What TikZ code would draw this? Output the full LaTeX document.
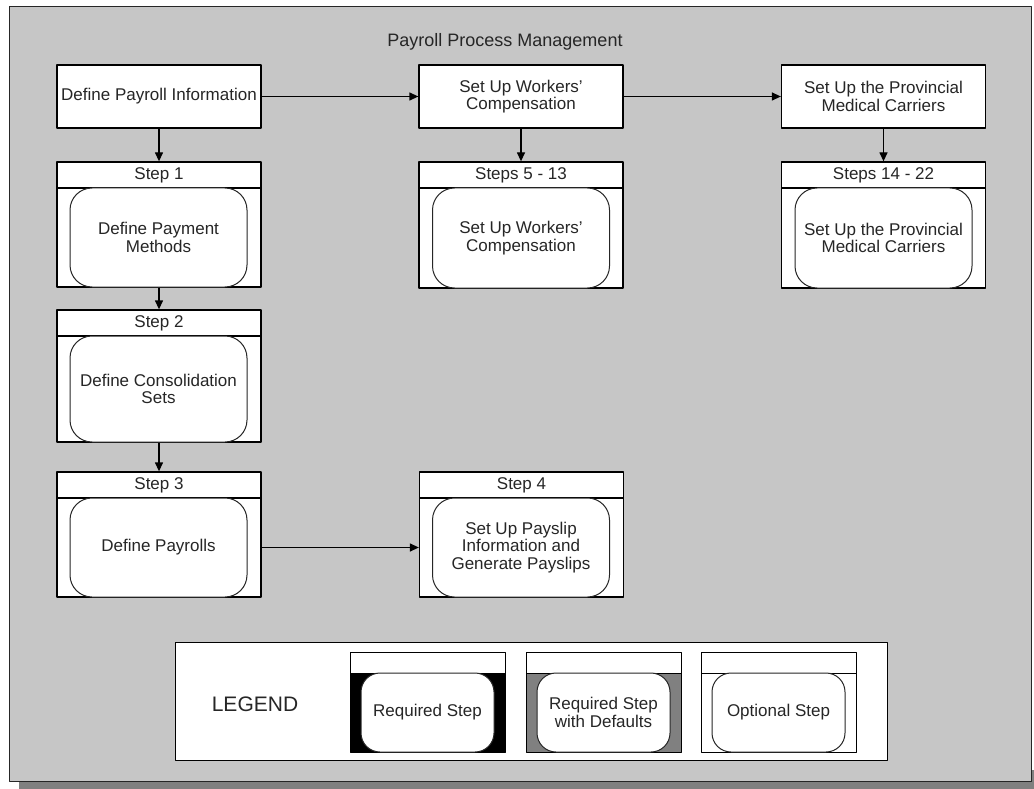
\documentclass[tikz,border=0pt]{standalone}
\usepackage{fontspec}
\setmainfont{Liberation Sans}
\usetikzlibrary{arrows.meta}

\definecolor{panelgray}{HTML}{C6C6C6}
\definecolor{shadowgray}{HTML}{808080}
\definecolor{inkgray}{HTML}{262626}

\begin{document}
\begin{tikzpicture}[
  x=1pt, y=-1pt,
  line join=round,
  >={Triangle[length=9pt,width=8pt]},
  every node/.style={font=\fontsize{17}{17.5}\selectfont, text=inkgray, inner sep=0pt},
  topbox/.style={draw, fill=white, line width=1.3pt, minimum width=204pt, minimum height=63pt, align=center},
  headbox/.style={draw, fill=white, line width=1.3pt, minimum width=204pt, minimum height=26pt},
  bodybox/.style={draw, fill=white, line width=1.3pt, minimum width=204pt},
  taskbox/.style={draw=inkgray, fill=white, line width=1pt, rounded corners=22pt, minimum width=177pt, align=center},
  keyhead/.style={draw, fill=white, line width=1pt, minimum width=155pt, minimum height=21pt},
  keybody/.style={draw, line width=1pt, minimum width=155pt, minimum height=79pt},
  keytask/.style={draw=inkgray, fill=white, line width=1pt, rounded corners=19pt, minimum width=133pt, minimum height=79pt, align=center},
  link/.style={->, line width=1.3pt, black}
]

% page, shadow and grey panel
\useasboundingbox (0,0) rectangle (1034,789);
\fill [white] (0,0) rectangle (1034,789);
\fill [shadowgray] (19,770) rectangle (1034,789);
\filldraw [fill=panelgray, draw=inkgray, line width=1pt] (9,7) rectangle (1031,781);

\node [font=\fontsize{18}{20}\selectfont] (title) at (505,42) {Payroll Process Management};

% top row
\node [topbox] (info)  at (159,96.5)   {Define Payroll Information};
\node [topbox] (wcomp) at (521,96.5)   {Set Up Workers'\\Compensation};
\node [topbox] (carr)  at (883.5,96.5) {Set Up the Provincial\\Medical Carriers};

% step 1
\node [headbox] (h1) at (159,175) {Step 1};
\node [bodybox, minimum height=99pt] (b1) at (159,237.5) {};
\node [taskbox, minimum height=99pt] (t1) at (158.5,237.5) {Define Payment\\Methods};

% step 2
\node [headbox] (h2) at (159,323) {Step 2};
\node [bodybox, minimum height=106pt] (b2) at (159,389) {};
\node [taskbox, minimum height=106pt] (t2) at (158.5,389) {Define Consolidation\\Sets};

% step 3
\node [headbox] (h3) at (159,485) {Step 3};
\node [bodybox, minimum height=99pt] (b3) at (159,547.5) {};
\node [taskbox, minimum height=99pt] (t3) at (158.5,547.5) {Define Payrolls};

% step 4
\node [headbox] (h4) at (521.5,485) {Step 4};
\node [bodybox, minimum height=99pt] (b4) at (521.5,547.5) {};
\node [taskbox, minimum height=99pt] (t4) at (521,547.5) {Set Up Payslip\\Information and\\Generate Payslips};

% steps 5 - 13
\node [headbox] (h5) at (521,175) {Steps 5 - 13};
\node [bodybox, minimum height=100pt] (b5) at (521,238) {};
\node [taskbox, minimum height=100pt] (t5) at (521,238) {Set Up Workers'\\Compensation};

% steps 14 - 22
\node [headbox] (h14) at (883.5,175) {Steps 14 - 22};
\node [bodybox, minimum height=100pt] (b14) at (883.5,238) {};
\node [taskbox, minimum height=100pt] (t14) at (883.5,238) {Set Up the Provincial\\Medical Carriers};

% connectors
\draw [link] (info) -- (wcomp);
\draw [link] (wcomp) -- (carr);
\draw [link] (info) -- (h1);
\draw [link] (wcomp) -- (h5);
\draw [link] (carr) -- (h14);
\draw [link] (b1) -- (h2);
\draw [link] (b2) -- (h3);
\draw [link] (b3) -- (b4);

% legend
\node [draw, fill=white, line width=1pt, minimum width=712pt, minimum height=118pt] (legend) at (531,701) {};
\node [font=\fontsize{21}{23}\selectfont] (legtext) at (255,704) {LEGEND};

\node [keyhead] (rqh) at (427.5,662.5) {};
\node [keybody, fill=black] (rqb) at (427.5,712.5) {};
\node [keytask] (rqt) at (427.5,712.5) {Required Step};

\node [keyhead] (dfh) at (603.5,662.5) {};
\node [keybody, fill=shadowgray] (dfb) at (603.5,712.5) {};
\node [keytask] (dft) at (603.5,712.5) {Required Step\\with Defaults};

\node [keyhead] (oph) at (778.5,662.5) {};
\node [keybody, fill=white] (opb) at (778.5,712.5) {};
\node [keytask] (opt) at (778.5,712.5) {Optional Step};

\end{tikzpicture}
\end{document}
